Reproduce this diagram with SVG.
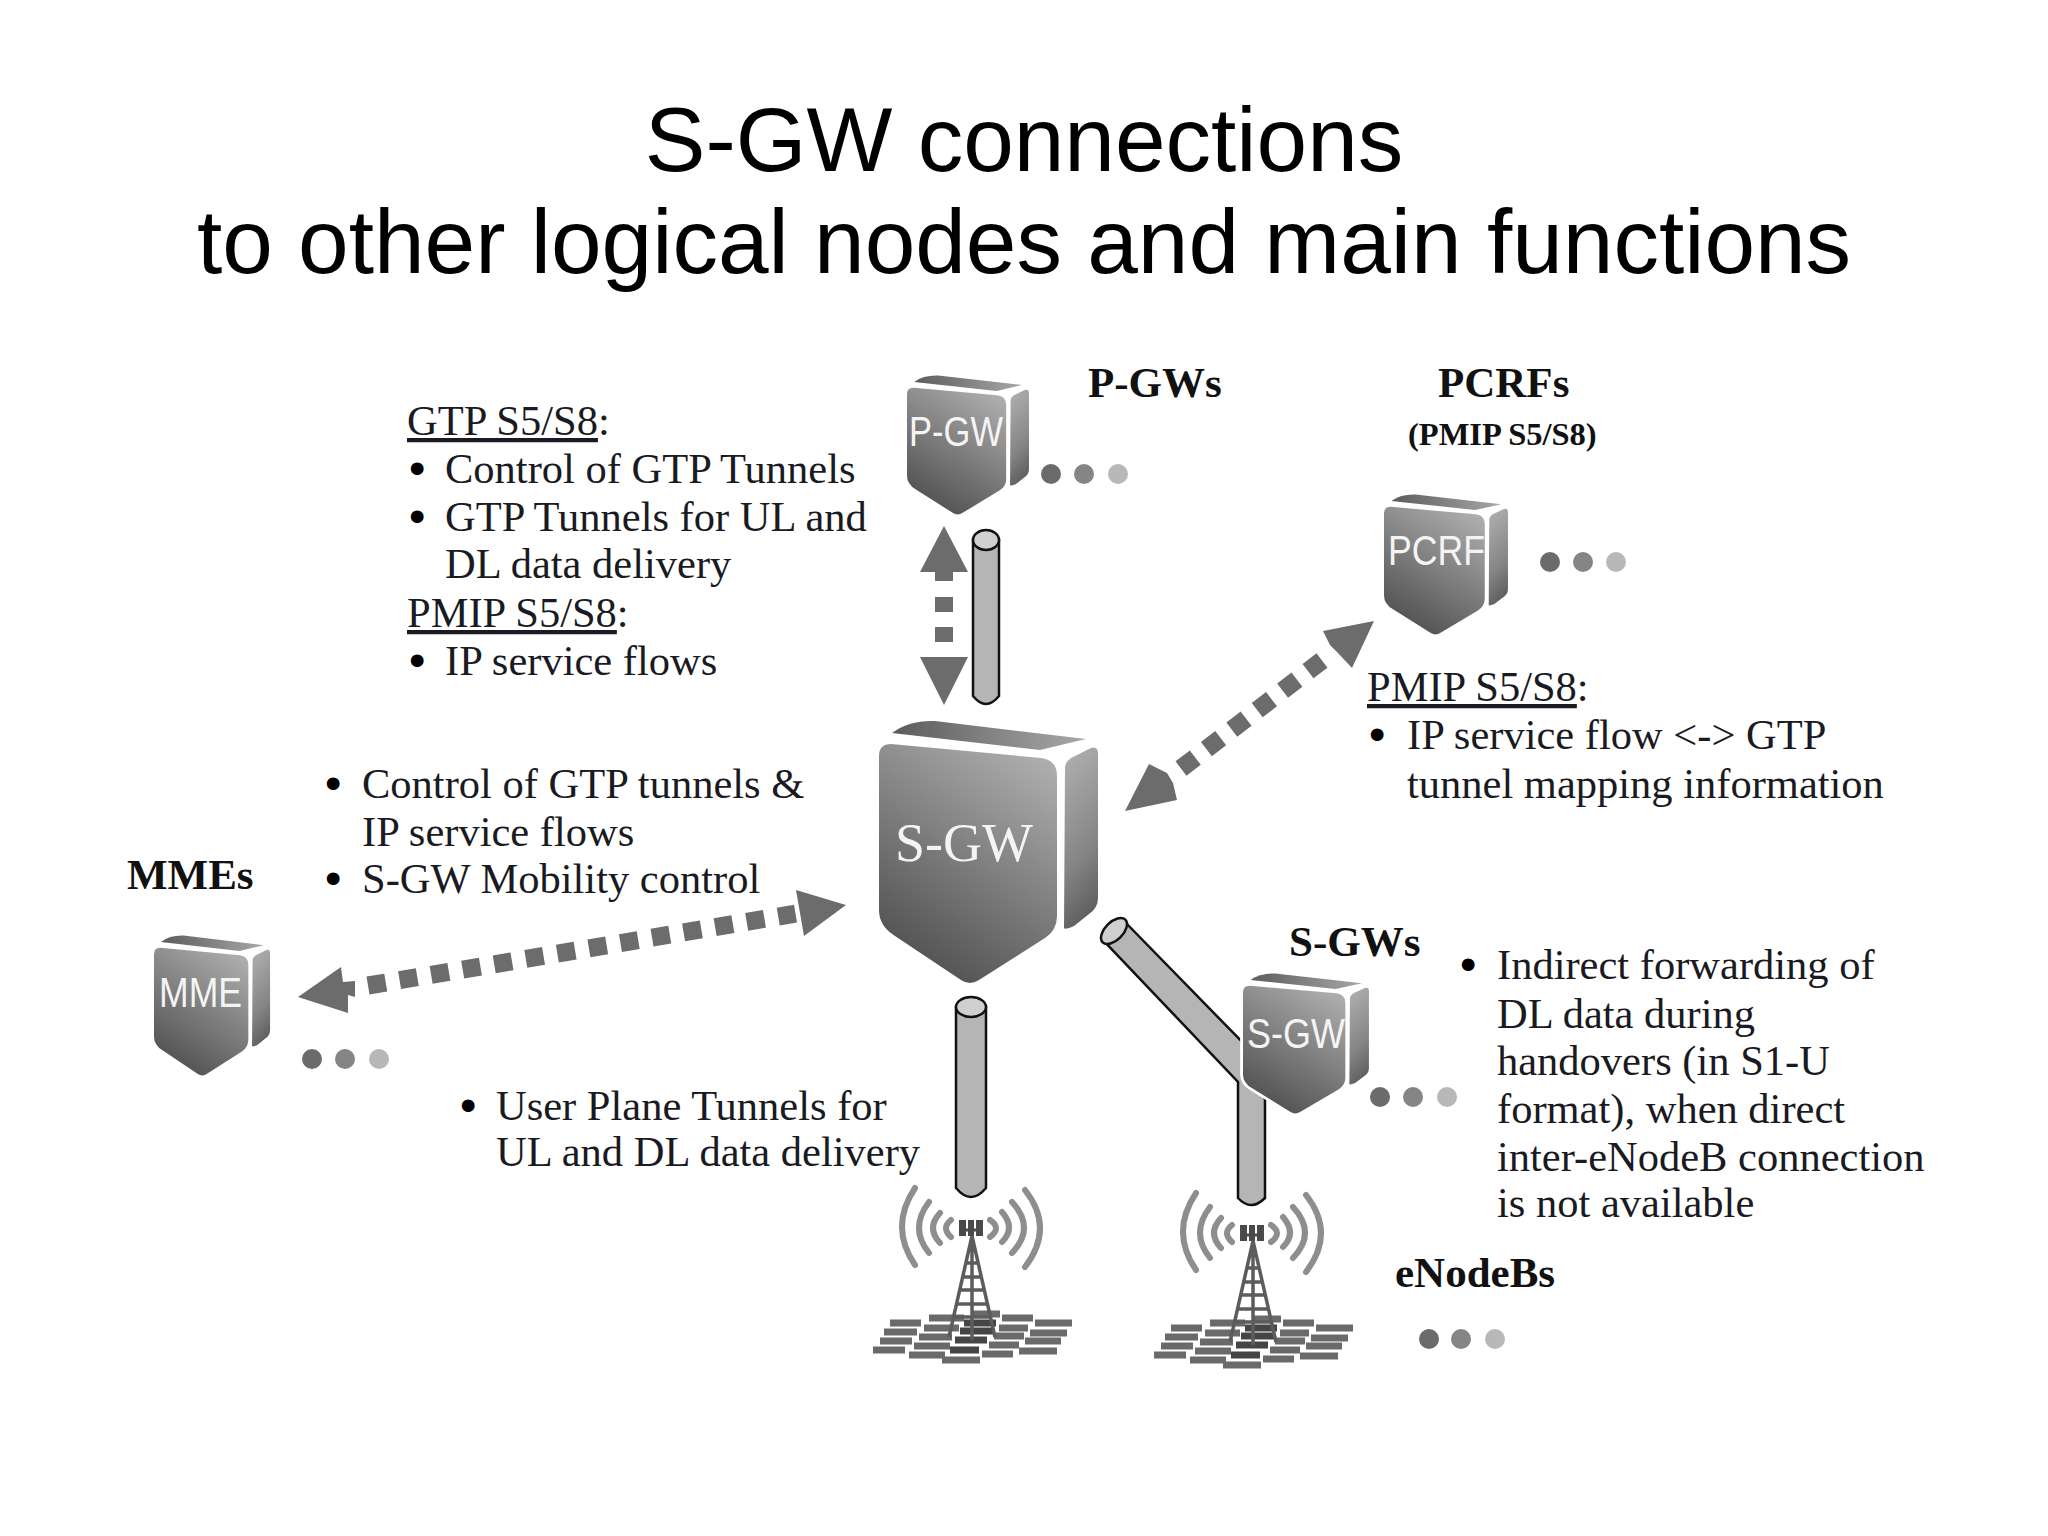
<svg xmlns="http://www.w3.org/2000/svg" xmlns:xlink="http://www.w3.org/1999/xlink" width="2048" height="1536" viewBox="0 0 2048 1536">
<style>
.title{font:91px "Liberation Sans",Arial,sans-serif;fill:#000;text-anchor:middle}
.t{font:42.5px "Liberation Serif","Times New Roman",serif;fill:#1a1a22}
.h{font:bold 43px "Liberation Serif","Times New Roman",serif;fill:#111}
.hs{font:bold 32.5px "Liberation Serif","Times New Roman",serif;fill:#111}
.b{font-size:41px;fill:#000;stroke:#000;stroke-width:3}
.u{text-decoration:underline}
.n{font:42px "Liberation Sans",Arial,sans-serif;fill:#f4f4f4}
.big{font:54px "Liberation Serif",serif;fill:#f4f4f4}
.d1{fill:#6b6b6b}.d2{fill:#858585}.d3{fill:#b8b8b8}
.arrow{fill:#6c6c6c}
.dash{stroke:#6c6c6c;stroke-width:18;fill:none}
.pipe{fill:#b5b5b5;stroke:#111;stroke-width:2.5}
.cap{fill:#cfcfcf;stroke:#111;stroke-width:2.5}
.wave{fill:none;stroke:#8e8e8e;stroke-width:6;stroke-linecap:round}
.mast{fill:none;stroke:#5c5c5c;stroke-width:3.5}
.grid{fill:none;stroke:#6a6a6a;stroke-width:7}
.grid2{fill:none;stroke:#454545;stroke-width:7}
</style>
<defs>
<linearGradient id="gf" x1="0.85" y1="0" x2="0.35" y2="1"><stop offset="0" stop-color="#b0b0b0"/><stop offset="0.45" stop-color="#858585"/><stop offset="1" stop-color="#515151"/></linearGradient>
<linearGradient id="gs" x1="0.4" y1="0" x2="0.6" y2="1"><stop offset="0" stop-color="#adadad"/><stop offset="0.6" stop-color="#858585"/><stop offset="1" stop-color="#5a5a5a"/></linearGradient>
<linearGradient id="gl" x1="0" y1="0" x2="1" y2="0"><stop offset="0" stop-color="#5c5c5c"/><stop offset="1" stop-color="#a8a8a8"/></linearGradient>
<path id="front" d="M12,24 L162,38 Q178,40 178,56 L178,196 Q178,210 166,218 L100,260 Q91,266 82,260 L16,216 Q0,206 0,190 L0,36 Q0,24 12,24Z"/>
<g id="box">
<path d="M13,13 Q30,0 56,1 L207,19 L161,30 Z" fill="url(#gl)"/>
<use href="#front" fill="url(#gf)"/>
<path d="M186,48 Q186,42 192,38 L212,28 Q219,26 219,34 L219,178 Q219,188 210,194 L195,206 Q186,210 185,208 Z" fill="url(#gs)"/>
</g>
<g id="tower">
<path class="grid" d="M63,95 H100 M58,105 H95 M53,113 H89 M47,123 H85 M30,90 H61 M27,100 H56 M22,108 H52 M17,117 H47 M10,126 H41 M0,86 H28 M-43,90 H-8 M-48,100 H-13 M-53,109 H-20 M-58,118 H-22 M-63,127 H-27 M-82,95 H-51 M-88,104 H-55 M-92,113 H-60 M-99,122 H-67 M-30,132 H8"/>
<path class="grid2" d="M-8,95 H24 M-12,103 H21 M-17,112 H15 M-22,122 H7"/>
<path class="wave" d="M-57,-40 Q-83,-1 -57,37 M-43,-26 Q-63,0 -43,25 M-32,-15 Q-46,0 -32,15 M-21,-8 Q-31,0 -21,9 M53,-38 Q83,0 53,39 M40,-26 Q64,0 40,25 M30,-16 Q44,0 30,14 M18,-8 Q30,0 18,9"/>
<path d="M-13,-8 h7 v16 h-7z M-4,-8 h6 v16 h-6z M4,-8 h7 v16 h-7z" fill="#4a4a4a"/>
<path d="M-13,2 H11" stroke="#4a4a4a" stroke-width="3"/>
<path class="mast" d="M0,8 L-23,109 M0,8 L23,109 M0,8 V112 M-7,35 H7 M-10,49 H10 M-13,62 H13 M-16,76 H16 M-20,89 H20"/>
</g>
</defs>
<rect width="2048" height="1536" fill="#fff"/>
<g id="title"><text class="title" x="1024" y="171">S-GW connections</text><text class="title" x="1024" y="273">to other logical nodes and main functions</text></g>
<g id="connectors">
<path class="pipe" d="M973,540 V696 Q986,712 999,696 V540 Z"/><ellipse class="cap" cx="986" cy="540" rx="13" ry="10"/>
<path class="pipe" d="M956,1007 V1188 Q971,1206 986,1188 V1007 Z"/><ellipse class="cap" cx="971" cy="1007" rx="15" ry="10"/>
<path class="pipe" d="M1125,922 L1250,1050 L1265,1100 V1198 Q1251,1212 1238,1198 V1082 L1103,940 Z"/><ellipse class="cap" cx="1114" cy="931" rx="16" ry="9" transform="rotate(-45 1114 931)"/>
<g id="arrow-pgw"><path class="arrow" d="M944,526 L968,572 H953 V581 H935 V572 H920 Z M935,597 h18 v15 h-18z M935,627 h18 v15 h-18z M920,657 H968 L944,705 Z"/></g>
<g id="arrow-pcrf"><path class="arrow" d="M1125,811 L1149,764 L1167,773 L1173,783 L1177,800 Z M1374,621 L1323,631 L1330,645 L1337,652 L1352,668 Z"/><path class="dash" stroke-dasharray="18 14" d="M1181,768.5 L1322,660.5"/></g>
<g id="arrow-mme"><path class="arrow" d="M298,997 L341,967 L343,982 L355,981 L355,997 L348,995 L348,1013 Z M846,905 L796,890 L804,936 Z"/><path class="dash" stroke-dasharray="18 14" d="M368,985.5 L795.5,913.6"/></g>
</g>
<g id="node-pgw"><use href="#box" transform="translate(907 375) scale(.557 .53)"/><text class="n" x="909" y="446" textLength="94" lengthAdjust="spacingAndGlyphs">P-GW</text><circle class="d1" cx="1051" cy="474" r="10"/><circle class="d2" cx="1084" cy="474" r="10"/><circle class="d3" cx="1118" cy="474" r="10"/></g>
<g id="node-pcrf"><use href="#box" transform="translate(1384 494) scale(.566 .534)"/><text class="n" x="1388" y="565" textLength="97" lengthAdjust="spacingAndGlyphs">PCRF</text><circle class="d1" cx="1550" cy="562" r="10"/><circle class="d2" cx="1583" cy="562" r="10"/><circle class="d3" cx="1616" cy="562" r="10"/></g>
<g id="node-mme"><use href="#box" transform="translate(154 935) scale(.53 .534)"/><text class="n" x="159" y="1007" textLength="83" lengthAdjust="spacingAndGlyphs">MME</text><circle class="d1" cx="312" cy="1059" r="10"/><circle class="d2" cx="345" cy="1059" r="10"/><circle class="d3" cx="379" cy="1059" r="10"/></g>
<g id="node-sgw-main"><use href="#box" transform="translate(879 720)"/><text class="big" x="895" y="861">S-GW</text></g>
<g id="node-sgw-peer"><use href="#front" transform="translate(1243 973) scale(.575 .534)" fill="#fff" stroke="#fff" stroke-width="10"/><use href="#box" transform="translate(1243 973) scale(.575 .534)"/><text class="n" x="1247" y="1048" textLength="98" lengthAdjust="spacingAndGlyphs">S-GW</text><circle class="d1" cx="1380" cy="1097" r="10"/><circle class="d2" cx="1413" cy="1097" r="10"/><circle class="d3" cx="1447" cy="1097" r="10"/></g>
<g id="node-enb1"><use href="#tower" transform="translate(972 1228)"/></g>
<g id="node-enb2"><use href="#tower" transform="translate(1253 1233)"/></g>
<g id="node-enb-more"><circle class="d1" cx="1429" cy="1339" r="10"/><circle class="d2" cx="1461" cy="1339" r="10"/><circle class="d3" cx="1495" cy="1339" r="10"/></g>
<g id="labels">
<text class="h" x="127" y="889">MMEs</text>
<text class="h" x="1088" y="397">P-GWs</text>
<text class="h" x="1438" y="397">PCRFs</text>
<text class="hs" x="1408" y="445">(PMIP S5/S8)</text>
<text class="h" x="1289" y="956">S-GWs</text>
<text class="h" x="1395" y="1287">eNodeBs</text>
<text class="t" x="407" y="435"><tspan class="u">GTP S5/S8</tspan>:</text>
<text class="t" x="410" y="483"><tspan class="b">•</tspan><tspan x="445">Control of GTP Tunnels</tspan></text>
<text class="t" x="410" y="531"><tspan class="b">•</tspan><tspan x="445">GTP Tunnels for UL and</tspan></text>
<text class="t" x="445" y="578">DL data delivery</text>
<text class="t" x="407" y="627"><tspan class="u">PMIP S5/S8</tspan>:</text>
<text class="t" x="410" y="675"><tspan class="b">•</tspan><tspan x="445">IP service flows</tspan></text>
<text class="t" x="326" y="798"><tspan class="b">•</tspan><tspan x="362">Control of GTP tunnels &amp;</tspan></text>
<text class="t" x="362" y="846">IP service flows</text>
<text class="t" x="326" y="893"><tspan class="b">•</tspan><tspan x="362">S-GW Mobility control</tspan></text>
<text class="t" x="1367" y="701"><tspan class="u">PMIP S5/S8</tspan>:</text>
<text class="t" x="1370" y="749"><tspan class="b">•</tspan><tspan x="1407">IP service flow &lt;-&gt; GTP</tspan></text>
<text class="t" x="1407" y="798">tunnel mapping information</text>
<text class="t" x="461" y="1120"><tspan class="b">•</tspan><tspan x="496">User Plane Tunnels for</tspan></text>
<text class="t" x="496" y="1166">UL and DL data delivery</text>
<text class="t" x="1461" y="979"><tspan class="b">•</tspan><tspan x="1497">Indirect forwarding of</tspan></text>
<text class="t" x="1497" y="1028">DL data during</text>
<text class="t" x="1497" y="1075">handovers (in S1-U</text>
<text class="t" x="1497" y="1123">format), when direct</text>
<text class="t" x="1497" y="1171">inter-eNodeB connection</text>
<text class="t" x="1497" y="1217">is not available</text>
</g>
</svg>
